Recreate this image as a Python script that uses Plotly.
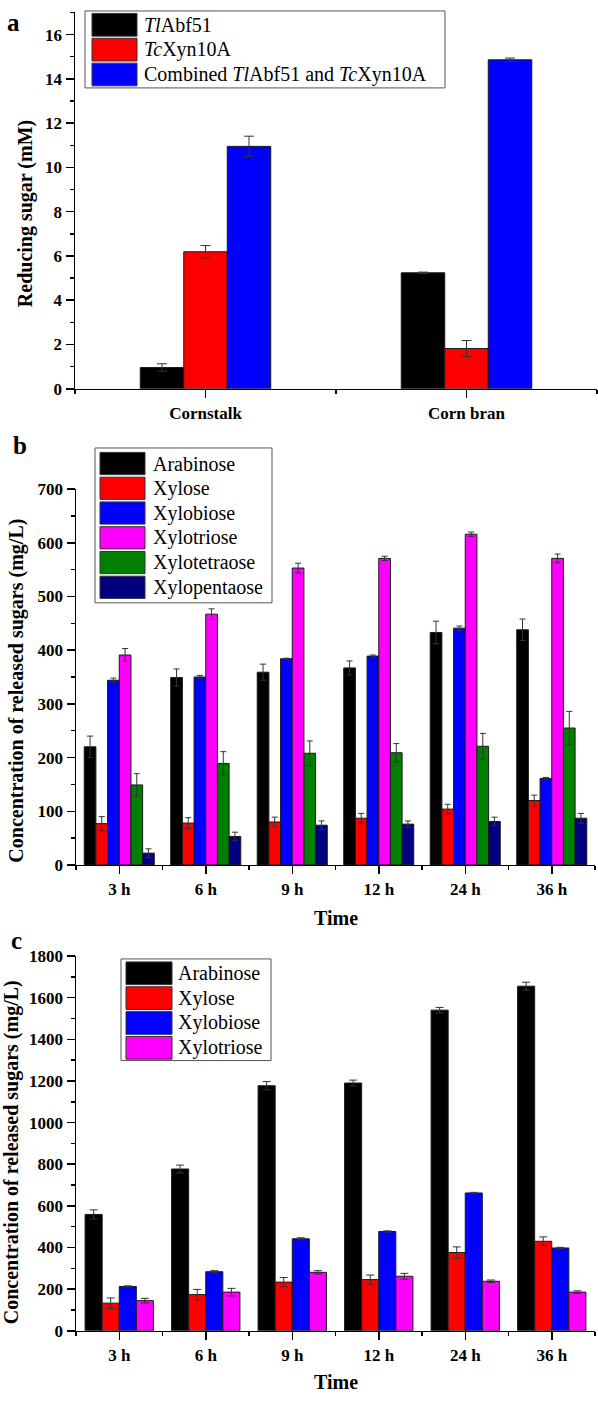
import plotly.graph_objects as go

# ---------------- data ----------------
# Panel a
substrates = ["Cornstalk", "Corn bran"]
a_names = ["<i>Tl</i>Abf51", "<i>Tc</i>Xyn10A", "Combined <i>Tl</i>Abf51 and <i>Tc</i>Xyn10A"]
tlabf51 = [0.96, 5.24]
tlabf51_err = [0.17, 0.03]
tcxyn10a = [6.19, 1.82]
tcxyn10a_err = [0.28, 0.36]
combined = [10.95, 14.86]
combined_err = [0.46, 0.08]

# Panel b
times = ["3 h", "6 h", "9 h", "12 h", "24 h", "36 h"]
b_names = ["Arabinose", "Xylose", "Xylobiose", "Xylotriose", "Xylotetraose", "Xylopentaose"]
arabinose_b = [220, 349, 359, 367, 433, 438]
arabinose_b_err = [20, 16, 15, 13, 21, 20]
xylose_b = [77, 78, 80, 87, 104, 120]
xylose_b_err = [13, 10, 9, 9, 9, 10]
xylobiose_b = [344, 350, 384, 389, 441, 161]
xylobiose_b_err = [4, 3, 1, 2, 4, 2]
xylotriose_b = [391, 467, 553, 571, 616, 571]
xylotriose_b_err = [12, 10, 9, 4, 4, 8]
xylotetraose_b = [149, 189, 208, 209, 221, 255]
xylotetraose_b_err = [21, 22, 23, 17, 24, 31]
xylopentaose_b = [22, 53, 74, 76, 81, 87]
xylopentaose_b_err = [8, 8, 8, 6, 8, 9]

# Panel c
c_names = ["Arabinose", "Xylose", "Xylobiose", "Xylotriose"]
arabinose_c = [559, 777, 1177, 1190, 1540, 1655]
arabinose_c_err = [22, 19, 20, 14, 13, 19]
xylose_c = [133, 174, 234, 246, 376, 430]
xylose_c_err = [25, 25, 22, 22, 27, 21]
xylobiose_c = [213, 284, 442, 477, 662, 398]
xylobiose_c_err = [3, 5, 5, 3, 3, 3]
xylotriose_c = [145, 186, 281, 262, 238, 186]
xylotriose_c_err = [11, 18, 8, 14, 6, 6]

COLORS = ["#000000", "#FF0000", "#0000FF", "#FF00FF", "#008000", "#000080"]

# ---------------- layout helpers ----------------
W, H = 598, 1402
FONT = "Liberation Serif"


def px(x):
    return x / W


def py(y):
    return 1 - y / H


fig = go.Figure()


def add_group(cats, series, errs, xref, yref, group_w, cap):
    n = len(series)
    w = group_w / n
    for i, (vals, e) in enumerate(zip(series, errs)):
        fig.add_trace(go.Bar(
            x=list(range(len(cats))), y=vals, width=w,
            offset=-group_w / 2 + i * w,
            marker=dict(color=COLORS[i], line=dict(color="#1a1a1a", width=1)),
            error_y=dict(type="data", array=e, visible=True, color="#333333",
                         thickness=1, width=cap),
            xaxis=xref, yaxis=yref, showlegend=False, hoverinfo="skip",
        ))


add_group(substrates, [tlabf51, tcxyn10a, combined],
          [tlabf51_err, tcxyn10a_err, combined_err], "x", "y", 0.5, 5)
add_group(times, [arabinose_b, xylose_b, xylobiose_b, xylotriose_b, xylotetraose_b, xylopentaose_b],
          [arabinose_b_err, xylose_b_err, xylobiose_b_err, xylotriose_b_err,
           xylotetraose_b_err, xylopentaose_b_err], "x2", "y2", 0.81, 3)
add_group(times, [arabinose_c, xylose_c, xylobiose_c, xylotriose_c],
          [arabinose_c_err, xylose_c_err, xylobiose_c_err, xylotriose_c_err],
          "x3", "y3", 0.79, 4)

tickfont = dict(family=FONT, size=17, color="black", weight="bold")


def xaxis(cats, x0, x1, anchor):
    n = len(cats)
    return dict(domain=[px(x0), px(x1)], anchor=anchor, range=[-0.5, n - 0.5],
                tickmode="array", tickvals=list(range(n)), ticktext=cats,
                ticks="outside", ticklen=8, tickwidth=1.5, tickcolor="black",
                minor=dict(tickmode="linear", tick0=0.5, dtick=1, ticks="outside",
                           ticklen=4, tickwidth=1.5, tickcolor="black"),
                showline=True, linecolor="black", linewidth=1.5,
                showgrid=False, zeroline=False, tickfont=tickfont, fixedrange=True)


def yaxis(ytop_px, ybot_px, top, dt, anchor):
    return dict(domain=[py(ybot_px), py(ytop_px)], anchor=anchor, range=[0, top],
                tickmode="linear", tick0=0, dtick=dt,
                ticks="outside", ticklen=8, tickwidth=1.5, tickcolor="black",
                minor=dict(tickmode="linear", tick0=0, dtick=dt / 2, ticks="outside",
                           ticklen=4, tickwidth=1.5, tickcolor="black"),
                showline=True, linecolor="black", linewidth=1.5,
                showgrid=False, zeroline=False, tickfont=tickfont, fixedrange=True)


shapes = []
annotations = []


def legend(names, box, sw_x, sw_w, row0, pitch, sw_h, text_x):
    shapes.append(dict(type="rect", xref="paper", yref="paper",
                       x0=px(box[0]), x1=px(box[2]), y0=py(box[3]), y1=py(box[1]),
                       line=dict(color="#555555", width=1), fillcolor="white"))
    for i, nm in enumerate(names):
        top = row0 + i * pitch
        shapes.append(dict(type="rect", xref="paper", yref="paper",
                           x0=px(sw_x), x1=px(sw_x + sw_w), y0=py(top + sw_h), y1=py(top),
                           line=dict(color="#333333", width=1), fillcolor=COLORS[i]))
        annotations.append(dict(xref="paper", yref="paper", x=px(text_x), y=py(top + sw_h / 2),
                                text=nm, showarrow=False, xanchor="left", yanchor="middle",
                                font=dict(family=FONT, size=20, color="black")))


legend(a_names, (85, 2, 445, 80), 92, 45, 4.5, 25.2, 23, 142)
legend(b_names, (95, 445, 272, 602), 100, 45, 449.5, 25.1, 22.5, 151)
legend(c_names, (121, 963, 271, 1066), 126, 46, 966, 25.2, 23, 176)

bold20 = dict(family=FONT, size=20, color="black", weight="bold")
bold24 = dict(family=FONT, size=25, color="black", weight="bold")


def text(x, y, t, font, angle=0):
    annotations.append(dict(xref="paper", yref="paper", x=px(x), y=py(y), text=t,
                            showarrow=False, xanchor="center", yanchor="middle",
                            textangle=angle, font=font))


text(14, 14, "a", bold24)
text(20, 443, "b", bold24)
text(16, 944, "c", bold24)
text(25, 208, "Reducing sugar (mM)", bold20, -90)
text(17, 691, "Concentration of released sugars (mg/L)", bold20, -90)
text(11, 1159, "Concentration of released sugars (mg/L)", bold20, -90)
text(336, 921, "Time", bold20)
text(336, 1392, "Time", bold20)

fig.update_layout(
    width=W, height=H, margin=dict(l=0, r=0, t=0, b=0),
    paper_bgcolor="white", plot_bgcolor="white",
    barmode="overlay", showlegend=False, hovermode=False,
    xaxis=xaxis(substrates, 75, 597, "y"),
    yaxis=yaxis(3.5, 385, 17, 2, "x"),
    xaxis2=xaxis(times, 76, 595, "y2"),
    yaxis2=yaxis(486.7, 867.7, 700, 100, "x2"),
    xaxis3=xaxis(times, 76, 595, "y3"),
    yaxis3=yaxis(960, 1340, 1800, 200, "x3"),
    shapes=shapes, annotations=annotations,
)

# remove the browser's default 8px body margin so the figure fills the window exactly
fig.write_html("out.html", config={"displayModeBar": False, "staticPlot": True},
               post_script="document.body.style.margin='0';document.body.style.overflow='hidden';")
